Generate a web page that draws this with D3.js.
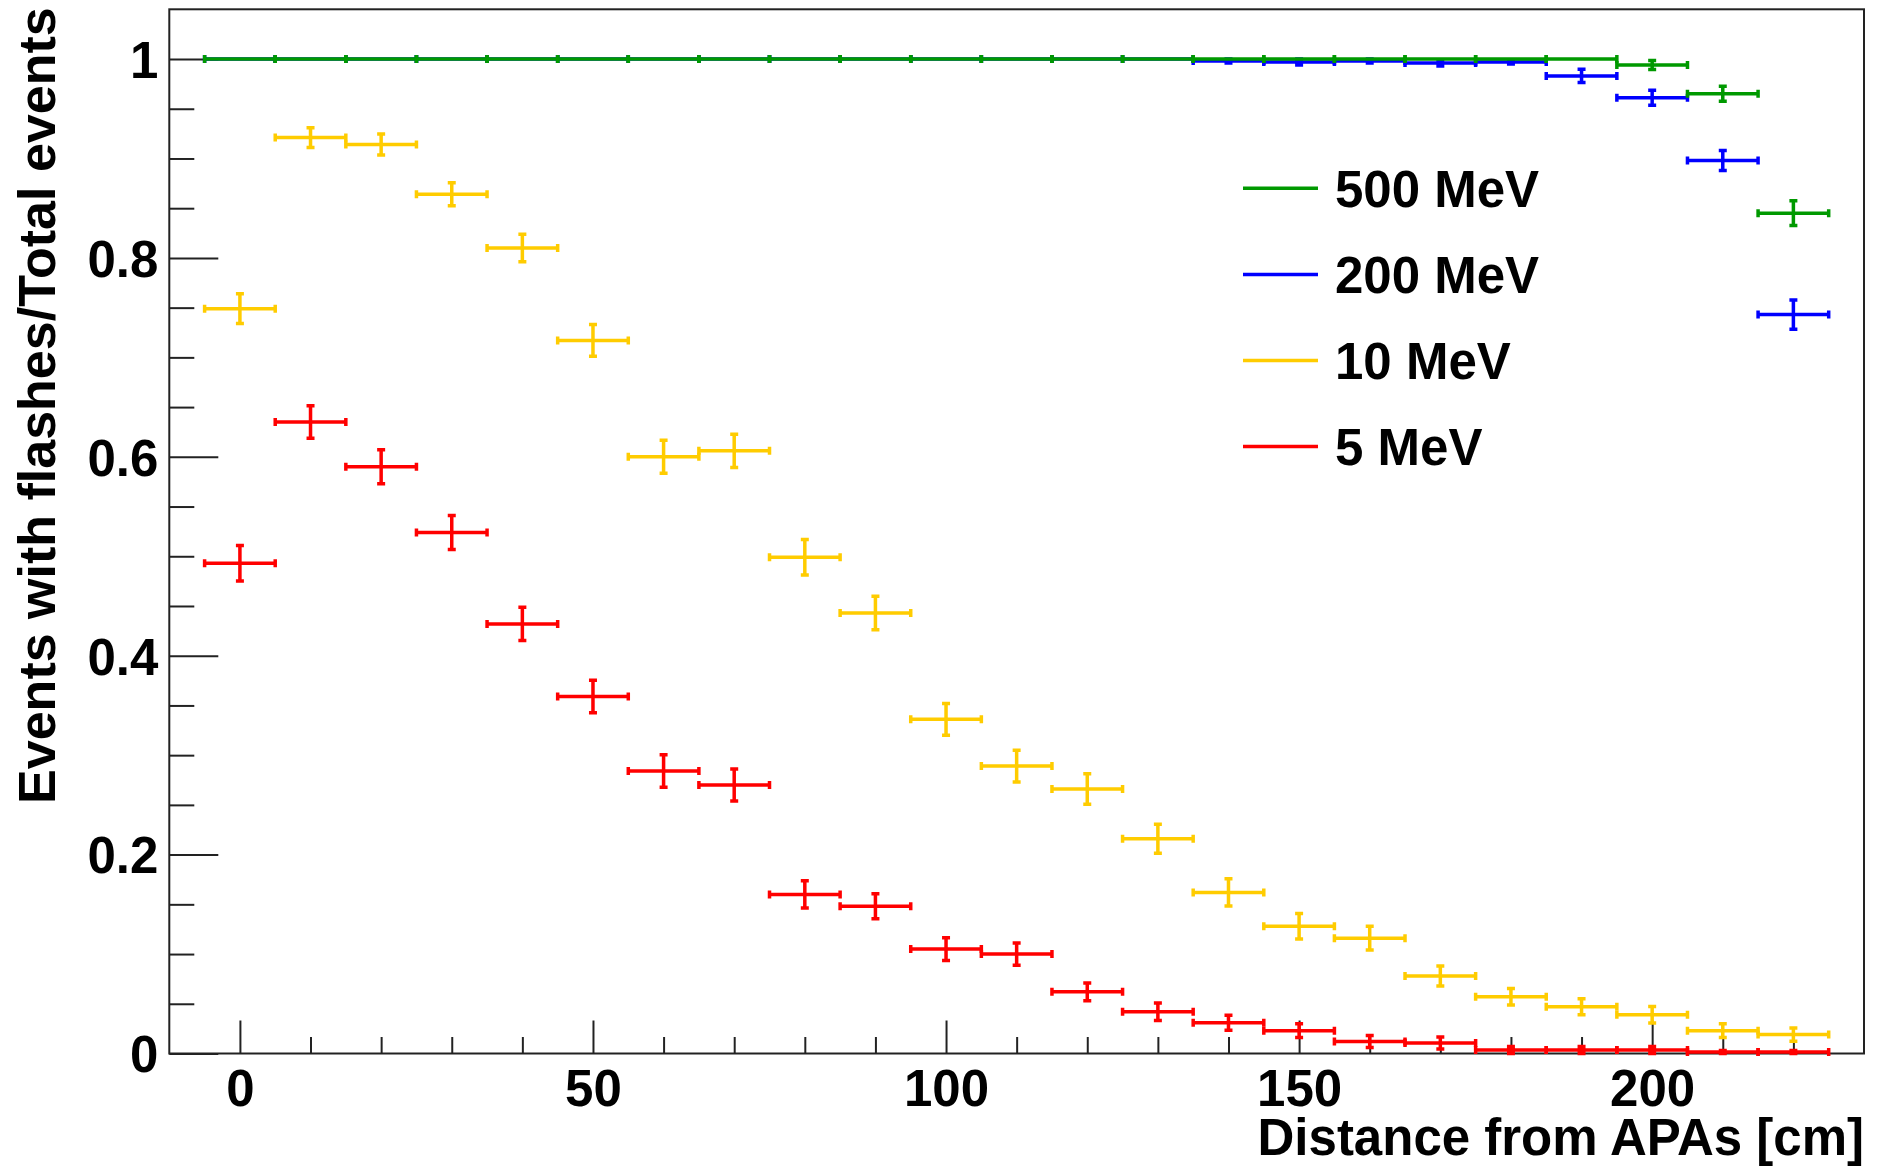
<!DOCTYPE html>
<html>
<head>
<meta charset="utf-8">
<script src="https://cdn.jsdelivr.net/npm/d3@7"></script>
<style>
  body { margin: 0; background: #fff; }
  text { font-family: "Liberation Sans", Arial, sans-serif; font-weight: bold; }
</style>
</head>
<body>
<script>
//data: bin centres (cm), bin half width 5 cm
var binCentres = [0, 10, 20, 30, 40, 50, 60, 70, 80, 90, 100, 110, 120, 130, 140, 150, 160, 170, 180, 190, 200, 210, 220];

var val500 = [1, 1, 1, 1, 1, 1, 1, 1, 1, 1, 1, 1, 1, 1, 1, 1, 1, 1, 1, 1, 0.994, 0.965, 0.845];
var err500 = [0, 0, 0, 0, 0, 0, 0, 0, 0, 0, 0, 0, 0, 0, 0, 0, 0, 0, 0, 0, 0.0045, 0.0075, 0.0125];

var val200 = [1, 1, 1, 1, 1, 1, 1, 1, 1, 1, 1, 1, 1, 1, 0.998, 0.997, 0.998, 0.996, 0.997, 0.983, 0.961, 0.898, 0.743];
var err200 = [0, 0, 0, 0, 0, 0, 0, 0, 0, 0, 0, 0, 0, 0, 0.002, 0.003, 0.002, 0.003, 0.002, 0.0067, 0.0075, 0.010, 0.0147];

var val10 = [0.749, 0.921, 0.914, 0.864, 0.810, 0.717, 0.600, 0.606, 0.499, 0.443, 0.336, 0.289, 0.266, 0.216, 0.162, 0.128, 0.116, 0.078, 0.057, 0.047, 0.039, 0.023, 0.019];
var err10 = [0.015, 0.010, 0.0105, 0.0115, 0.0138, 0.016, 0.0166, 0.0168, 0.0179, 0.0168, 0.016, 0.0159, 0.0154, 0.0146, 0.0136, 0.0129, 0.012, 0.010, 0.0083, 0.008, 0.0083, 0.007, 0.0067];

var val5 = [0.493, 0.635, 0.590, 0.524, 0.432, 0.359, 0.284, 0.270, 0.160, 0.148, 0.105, 0.100, 0.062, 0.042, 0.031, 0.023, 0.012, 0.0105, 0.0035, 0.0035, 0.0035, 0.0015, 0.0015];
var err5 = [0.0178, 0.0163, 0.0171, 0.0171, 0.0168, 0.0163, 0.0163, 0.016, 0.0136, 0.0126, 0.0114, 0.0112, 0.009, 0.0087, 0.0075, 0.007, 0.006, 0.006, 0.0035, 0.0035, 0.0035, 0.0015, 0.0015];

var legendLabels = ["500 MeV", "200 MeV", "10 MeV", "5 MeV"];
var seriesColors = ["#009900", "#0000ff", "#ffcc00", "#ff0000"];

var xTicks = [0, 50, 100, 150, 200];
var xMinor = [10, 20, 30, 40, 60, 70, 80, 90, 110, 120, 130, 140, 160, 170, 180, 190, 210, 220];
var yTicks = [0, 0.2, 0.4, 0.6, 0.8, 1];
var yMinor = [0.05, 0.1, 0.15, 0.25, 0.3, 0.35, 0.45, 0.5, 0.55, 0.65, 0.7, 0.75, 0.85, 0.9, 0.95];

var xTitle = "Distance from APAs [cm]";
var yTitle = "Events with flashes/Total events";

//layout (frame edges)
var cWidth = 1879;
var cHeight = 1167;
var frameL = 169.3, frameR = 1864, frameT = 9.3, frameB = 1053.5;
var halfBin = 5;
var fontSize = 51;

var xScale = d3.scaleLinear()
    .domain([-10, 230])
    .range([frameL, frameR]);

var yScale = d3.scaleLinear()
    .domain([0, 1.05])
    .range([frameB, frameT]);

var svg = d3.select("body")
    .append("svg")
    .attr("width", cWidth)
    .attr("height", cHeight);

svg.append("rect")
    .attr("width", cWidth)
    .attr("height", cHeight)
    .attr("fill", "#fff");

//axes, ticks pointing into the frame
svg.append("g")
    .attr("transform", "translate(0," + frameB + ")")
    .call(d3.axisBottom(xScale).tickValues(xTicks).tickSizeInner(-33).tickSizeOuter(0).tickPadding(16));

svg.append("g")
    .attr("transform", "translate(0," + frameB + ")")
    .call(d3.axisBottom(xScale).tickValues(xMinor).tickSizeInner(-16.5).tickSizeOuter(0).tickFormat(""));

var yAxis = svg.append("g")
    .attr("transform", "translate(" + frameL + ",0)")
    .call(d3.axisLeft(yScale).tickValues(yTicks).tickSizeInner(-49).tickSizeOuter(0).tickPadding(11).tickFormat(function(d) { return d; }));

svg.append("g")
    .attr("transform", "translate(" + frameL + ",0)")
    .call(d3.axisLeft(yScale).tickValues(yMinor).tickSizeInner(-25).tickSizeOuter(0).tickFormat(""));

svg.selectAll(".domain").remove();
svg.selectAll(".tick line").attr("stroke", "#222").attr("stroke-width", 2);
svg.selectAll(".tick text")
    .attr("fill", "#000")
    .style("font-size", fontSize + "px");
yAxis.selectAll(".tick text").attr("dy", "0.36em");

//frame
svg.append("rect")
    .attr("x", frameL)
    .attr("y", frameT)
    .attr("width", frameR - frameL)
    .attr("height", frameB - frameT)
    .attr("fill", "none")
    .attr("stroke", "#222")
    .attr("stroke-width", 2);

//axis titles
svg.append("text")
    .attr("x", frameR)
    .attr("y", 1155)
    .attr("text-anchor", "end")
    .style("font-size", fontSize + "px")
    .text(xTitle);

svg.append("text")
    .attr("transform", "translate(55," + (frameT - 2) + ") rotate(-90)")
    .attr("text-anchor", "end")
    .style("font-size", "52px")
    .text(yTitle);

//error bar crosses, drawn 5 MeV first so 500 MeV lies on top
var series = [
  {vals: val5, errs: err5, color: seriesColors[3]},
  {vals: val10, errs: err10, color: seriesColors[2]},
  {vals: val200, errs: err200, color: seriesColors[1]},
  {vals: val500, errs: err500, color: seriesColors[0]}
];

var cap = 4;

series.forEach(function(s) {
  var pts = binCentres.map(function(c, i) { return {c: c, v: s.vals[i], e: s.errs[i]}; });
  var g = svg.append("g")
      .attr("stroke", s.color)
      .attr("stroke-width", 3.5)
      .attr("fill", "none");

  g.selectAll("path")
      .data(pts)
      .enter()
      .append("path")
      .attr("d", crossPath);
});

function crossPath(d) {
  var x0 = xScale(d.c - halfBin), x1 = xScale(d.c + halfBin), xc = xScale(d.c);
  var yc = yScale(d.v), yLo = yScale(d.v - d.e), yHi = yScale(d.v + d.e);
  return "M" + x0 + "," + yc + "H" + x1 +
    "M" + x0 + "," + (yc - cap) + "V" + (yc + cap) +
    "M" + x1 + "," + (yc - cap) + "V" + (yc + cap) +
    "M" + xc + "," + yLo + "V" + yHi +
    "M" + (xc - cap) + "," + yLo + "H" + (xc + cap) +
    "M" + (xc - cap) + "," + yHi + "H" + (xc + cap);
}

//legend
var legendX0 = 1243, legendX1 = 1318, legendY0 = 188.3, legendStep = 86.1;

var legend = svg.selectAll(".legend")
    .data(legendLabels)
    .enter()
    .append("g")
    .attr("class", "legend")
    .attr("transform", function(d, i) { return "translate(0," + (legendY0 + i * legendStep) + ")"; });

legend.append("line")
    .attr("x1", legendX0)
    .attr("x2", legendX1)
    .attr("stroke", function(d, i) { return seriesColors[i]; })
    .attr("stroke-width", 3.5);

legend.append("text")
    .attr("x", 1335)
    .attr("dy", "0.36em")
    .style("font-size", fontSize + "px")
    .text(function(d) { return d; });
</script>
</body>
</html>
